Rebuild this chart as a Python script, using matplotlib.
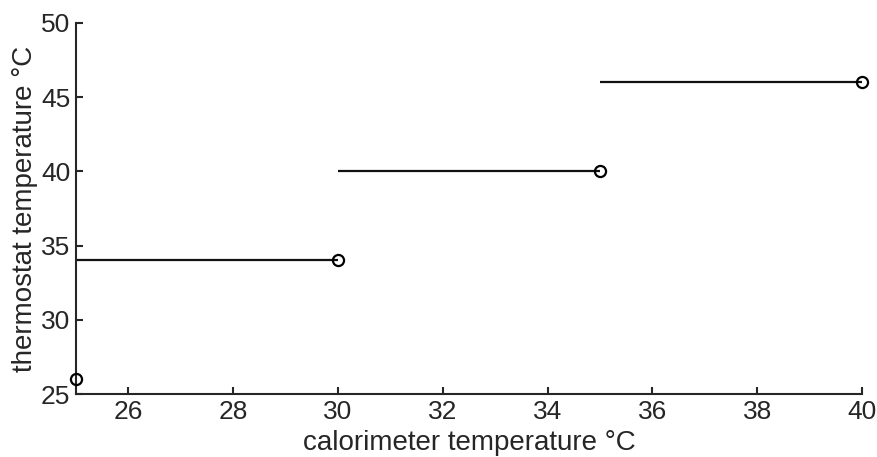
import matplotlib
matplotlib.use("Agg")
import matplotlib.pyplot as plt

# data
marker_x = [25, 30, 35, 40]
marker_y = [26, 34, 40, 46]
seg_start = [25, 30, 35]
seg_end = [30, 35, 40]
seg_y = [34, 40, 46]
xticks = [26, 28, 30, 32, 34, 36, 38, 40]
yticks = [25, 30, 35, 40, 45, 50]

plt.rcParams['font.family'] = ['Liberation Sans', 'DejaVu Sans']
axcol = '#262626'

fig = plt.figure(figsize=(8.78, 4.57), dpi=100)
ax = fig.add_axes([76/878, 1-394/457, (862-76)/878, (394-23)/457])

ax.hlines(seg_y, seg_start, seg_end, colors='#111111', linewidth=1.6)
ax.plot(marker_x, marker_y, linestyle='none', marker='o', markersize=8,
        markerfacecolor='none', markeredgecolor='black', markeredgewidth=1.6,
        clip_on=False, zorder=5)

ax.set_xlim(25, 40)
ax.set_ylim(25, 50)
ax.set_xticks(xticks)
ax.set_yticks(yticks)
for s in ['top', 'right']:
    ax.spines[s].set_visible(False)
for s in ['left', 'bottom']:
    ax.spines[s].set_color(axcol)
    ax.spines[s].set_linewidth(1.5)
ax.tick_params(direction='in', length=5, width=1.5, color=axcol,
               labelcolor=axcol, labelsize=19, pad=4)
ax.set_xlabel('calorimeter temperature \u00b0C', fontsize=20, color=axcol, labelpad=5)
ax.set_ylabel('thermostat temperature \u00b0C', fontsize=20, color=axcol, labelpad=2)

fig.savefig('out.png', dpi=100)
